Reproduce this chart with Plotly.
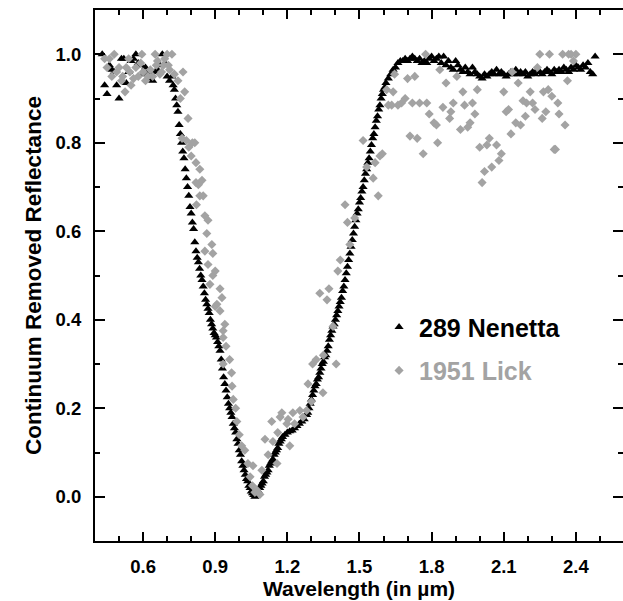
import plotly.graph_objects as go

# ---- 289 Nenetta (black triangles) ----
nenetta_wl = [
    0.43, 0.44, 0.45, 0.46, 0.47, 0.48, 0.49, 0.50, 0.51, 0.52, 0.53, 0.54, 0.55, 0.56, 0.57, 0.58,
    0.59, 0.60, 0.61, 0.62, 0.63, 0.64, 0.65, 0.66, 0.67, 0.68, 0.69, 0.70, 0.71, 0.72, 0.725, 0.73,
    0.735, 0.74, 0.745, 0.75, 0.755, 0.76, 0.765, 0.77, 0.775, 0.78, 0.785, 0.79, 0.795, 0.80, 0.805,
    0.81, 0.815, 0.82, 0.825, 0.83, 0.835, 0.84, 0.845, 0.85, 0.855, 0.86, 0.865, 0.87, 0.875, 0.88,
    0.885, 0.89, 0.895, 0.90, 0.905, 0.91, 0.915, 0.92, 0.925, 0.93, 0.935, 0.94, 0.945, 0.95, 0.955,
    0.96, 0.965, 0.97, 0.975, 0.98, 0.985, 0.99, 0.995, 1.00, 1.005, 1.01, 1.015, 1.02, 1.025, 1.03,
    1.035, 1.04, 1.045, 1.05, 1.055, 1.06, 1.065, 1.07, 1.075, 1.08, 1.085, 1.09, 1.095, 1.10, 1.105,
    1.11, 1.115, 1.12, 1.125, 1.13, 1.135, 1.14, 1.145, 1.15, 1.155, 1.16, 1.165, 1.17, 1.175, 1.18,
    1.19, 1.20, 1.21, 1.22, 1.23, 1.24, 1.25, 1.26, 1.27, 1.28, 1.285, 1.29, 1.295, 1.30, 1.305, 1.31,
    1.315, 1.32, 1.325, 1.33, 1.335, 1.34, 1.345, 1.35, 1.355, 1.36, 1.365, 1.37, 1.375, 1.38, 1.385,
    1.39, 1.395, 1.40, 1.405, 1.41, 1.415, 1.42, 1.425, 1.43, 1.435, 1.44, 1.445, 1.45, 1.455, 1.46,
    1.465, 1.47, 1.475, 1.48, 1.485, 1.49, 1.495, 1.50, 1.505, 1.51, 1.515, 1.52, 1.525, 1.53, 1.535,
    1.54, 1.545, 1.55, 1.555, 1.56, 1.565, 1.57, 1.575, 1.58, 1.585, 1.59, 1.595, 1.60, 1.605, 1.61,
    1.62, 1.63, 1.64, 1.65, 1.66, 1.67, 1.68, 1.69, 1.70, 1.71, 1.72, 1.73, 1.74, 1.75, 1.76, 1.77,
    1.78, 1.79, 1.80, 1.81, 1.82, 1.83, 1.84, 1.85, 1.86, 1.87, 1.88, 1.89, 1.90, 1.91, 1.92, 1.93,
    1.94, 1.95, 1.96, 1.97, 1.98, 1.99, 2.00, 2.01, 2.02, 2.03, 2.04, 2.05, 2.06, 2.07, 2.08, 2.09,
    2.10, 2.11, 2.12, 2.13, 2.14, 2.15, 2.16, 2.17, 2.18, 2.19, 2.20, 2.21, 2.22, 2.23, 2.24, 2.25,
    2.26, 2.27, 2.28, 2.29, 2.30, 2.31, 2.32, 2.33, 2.34, 2.35, 2.36, 2.37, 2.38, 2.39, 2.40, 2.41,
    2.42, 2.43, 2.44, 2.45, 2.46, 2.47, 2.48,
]
nenetta_refl = [
    1.00, 0.93, 0.91, 0.975, 0.965, 0.96, 0.93, 0.90, 0.99, 0.99, 0.935, 0.96, 0.985, 0.99, 1.00, 0.98,
    0.975, 0.955, 0.97, 0.96, 0.945, 0.94, 0.96, 0.965, 0.975, 1.00, 0.98, 0.95, 0.94, 0.95, 0.93, 0.92,
    0.90, 0.885, 0.87, 0.84, 0.82, 0.80, 0.78, 0.765, 0.74, 0.72, 0.70, 0.68, 0.655, 0.64, 0.62,
    0.605, 0.575, 0.555, 0.54, 0.53, 0.515, 0.50, 0.49, 0.475, 0.46, 0.445, 0.435, 0.425, 0.415, 0.40,
    0.39, 0.38, 0.37, 0.365, 0.36, 0.35, 0.34, 0.33, 0.31, 0.29, 0.27, 0.255, 0.24, 0.225, 0.21,
    0.20, 0.19, 0.18, 0.165, 0.155, 0.145, 0.13, 0.12, 0.105, 0.095, 0.08, 0.07, 0.06, 0.05, 0.04,
    0.035, 0.025, 0.02, 0.012, 0.008, 0.004, 0.0, 0.004, 0.008, 0.012, 0.02, 0.025, 0.03, 0.035, 0.045,
    0.05, 0.055, 0.06, 0.07, 0.075, 0.08, 0.085, 0.095, 0.10, 0.105, 0.11, 0.12, 0.125, 0.13, 0.135,
    0.14, 0.145, 0.148, 0.15, 0.155, 0.16, 0.165, 0.17, 0.175, 0.185, 0.19, 0.20, 0.21, 0.22, 0.23, 0.24,
    0.25, 0.255, 0.265, 0.27, 0.28, 0.29, 0.30, 0.305, 0.315, 0.32, 0.33, 0.34, 0.355, 0.365, 0.375,
    0.385, 0.39, 0.40, 0.41, 0.42, 0.43, 0.44, 0.45, 0.465, 0.475, 0.49, 0.505, 0.52, 0.535, 0.55,
    0.565, 0.58, 0.595, 0.61, 0.625, 0.64, 0.65, 0.665, 0.675, 0.69, 0.70, 0.715, 0.73, 0.74, 0.755,
    0.765, 0.78, 0.795, 0.81, 0.82, 0.835, 0.85, 0.86, 0.875, 0.885, 0.90, 0.91, 0.92, 0.925, 0.935,
    0.945, 0.955, 0.965, 0.97, 0.98, 0.985, 0.985, 0.99, 0.985, 0.99, 0.995, 0.99, 0.985, 0.99, 0.98, 0.985,
    0.98, 0.99, 0.995, 0.985, 0.99, 0.995, 0.98, 0.995, 0.975, 0.985, 0.97, 0.965, 0.985, 0.975, 0.965, 0.96,
    0.97, 0.96, 0.955, 0.97, 0.96, 0.955, 0.95, 0.945, 0.955, 0.95, 0.955, 0.96, 0.955, 0.965, 0.955, 0.96,
    0.955, 0.95, 0.955, 0.96, 0.955, 0.965, 0.955, 0.96, 0.955, 0.96, 0.95, 0.955, 0.96, 0.955, 0.965, 0.96,
    0.955, 0.96, 0.965, 0.96, 0.955, 0.965, 0.96, 0.965, 0.96, 0.97, 0.965, 0.96, 0.97, 0.965, 0.975, 0.97,
    0.965, 0.975, 0.97, 0.98, 0.96, 0.955, 0.995,
]

# ---- 1951 Lick (gray diamonds) ----
lick_wl = [
    0.44, 0.45, 0.46, 0.47, 0.48, 0.49, 0.50, 0.51, 0.515, 0.525, 0.53, 0.54, 0.545, 0.55, 0.56, 0.57,
    0.58, 0.59, 0.595, 0.60, 0.61, 0.62, 0.63, 0.64, 0.65, 0.655, 0.66, 0.67, 0.677, 0.685, 0.69, 0.70,
    0.705, 0.71, 0.72, 0.73, 0.745, 0.755, 0.762, 0.766, 0.773, 0.78, 0.787, 0.79, 0.80, 0.805, 0.815,
    0.82, 0.82, 0.822, 0.83, 0.836, 0.836, 0.845, 0.85, 0.857, 0.857, 0.865, 0.87, 0.87, 0.878, 0.886,
    0.89, 0.89, 0.90, 0.90, 0.907, 0.92, 0.92, 0.928, 0.933, 0.933, 0.933, 0.94, 0.945, 0.96, 0.968,
    0.97, 0.975, 0.985, 0.99, 1.00, 1.01, 1.023, 1.036, 1.045, 1.055, 1.057, 1.065, 1.073, 1.086, 1.094,
    1.107, 1.12, 1.135, 1.14, 1.157, 1.16, 1.17, 1.177, 1.198, 1.203, 1.21, 1.223, 1.23, 1.252, 1.265,
    1.28, 1.286, 1.30, 1.305, 1.32, 1.335, 1.348, 1.35, 1.365, 1.373, 1.39, 1.403, 1.41, 1.42, 1.44,
    1.45, 1.46, 1.48, 1.515, 1.53, 1.557, 1.565, 1.578, 1.585, 1.595, 1.613, 1.62, 1.634, 1.64, 1.646,
    1.66, 1.675, 1.69, 1.70, 1.71, 1.72, 1.73, 1.74, 1.75, 1.765, 1.775, 1.78, 1.79, 1.81, 1.82,
    1.825, 1.834, 1.847, 1.86, 1.875, 1.88, 1.89, 1.905, 1.92, 1.93, 1.937, 1.95, 1.96, 1.97, 1.98,
    1.99, 2.00, 2.01, 2.02, 2.03, 2.04, 2.05, 2.07, 2.08, 2.09, 2.10, 2.11, 2.12, 2.13, 2.135, 2.15,
    2.16, 2.17, 2.18, 2.19, 2.195, 2.21, 2.22, 2.23, 2.24, 2.25, 2.26, 2.265, 2.275, 2.285, 2.29,
    2.30, 2.31, 2.315, 2.325, 2.33, 2.345, 2.355, 2.365, 2.37, 2.38, 2.39, 2.40,
]
lick_refl = [
    0.99, 0.97, 0.99, 0.95, 1.00, 0.96, 0.97, 0.94, 0.95, 0.915, 0.97, 0.99, 0.96, 0.93, 0.945, 0.97,
    0.95, 0.98, 1.00, 0.96, 0.94, 0.95, 0.965, 0.95, 1.00, 0.975, 0.985, 0.955, 0.96, 0.975, 0.99, 1.00,
    0.975, 0.965, 1.00, 0.955, 0.94, 0.90, 0.81, 0.96, 0.915, 0.805, 0.855, 0.79, 0.77, 0.80, 0.80,
    0.755, 0.71, 0.66, 0.705, 0.74, 0.68, 0.715, 0.68, 0.635, 0.555, 0.595, 0.625, 0.525, 0.48, 0.57,
    0.55, 0.50, 0.51, 0.43, 0.435, 0.47, 0.42, 0.45, 0.375, 0.36, 0.30, 0.39, 0.34, 0.31, 0.28,
    0.25, 0.22, 0.20, 0.17, 0.14, 0.115, 0.105, 0.075, 0.045, 0.025, 0.07, 0.01, 0.015, 0.005, 0.06,
    0.13, 0.095, 0.17, 0.125, 0.075, 0.145, 0.18, 0.19, 0.165, 0.175, 0.115, 0.19, 0.165, 0.195, 0.18,
    0.195, 0.255, 0.215, 0.30, 0.31, 0.46, 0.235, 0.32, 0.445, 0.47, 0.385, 0.30, 0.51, 0.535, 0.66,
    0.62, 0.57, 0.63, 0.805, 0.745, 0.72, 0.755, 0.68, 0.77, 0.775, 0.92, 0.885, 0.885, 0.915, 0.955,
    0.885, 0.89, 0.90, 0.945, 0.815, 0.89, 0.95, 0.81, 0.89, 0.775, 1.00, 0.89, 0.865, 0.845, 0.84,
    0.80, 0.965, 0.88, 0.935, 0.855, 0.87, 0.89, 0.95, 0.83, 0.915, 0.885, 0.835, 0.845, 0.89, 0.865,
    0.92, 0.79, 0.71, 0.735, 0.795, 0.81, 0.745, 0.795, 0.76, 0.775, 0.915, 0.87, 0.875, 0.82, 0.96, 0.845,
    0.935, 0.84, 0.895, 0.86, 0.89, 0.915, 0.89, 0.875, 0.97, 1.00, 0.855, 0.915, 0.87, 0.92, 1.00,
    0.905, 0.785, 0.785, 0.89, 0.865, 1.00, 0.84, 0.94, 1.00, 1.00, 0.985, 1.00,
]

# ---- axis ticks ----
x_tick_vals = [0.6, 0.9, 1.2, 1.5, 1.8, 2.1, 2.4]
y_tick_vals = [0.0, 0.2, 0.4, 0.6, 0.8, 1.0]

GRAY = "#a3a3a3"
FONT = "Liberation Sans, Arial, sans-serif"

fig = go.Figure()
fig.add_trace(go.Scatter(
    x=nenetta_wl, y=nenetta_refl, mode="markers",
    name="<b>289 Nenetta</b>", legendgroup="a",
    marker=dict(symbol="triangle-up", size=8, color="black", line=dict(width=0)),
))
fig.add_trace(go.Scatter(
    x=lick_wl, y=lick_refl, mode="markers",
    name="<b><span style='color:%s'>1951 Lick</span></b>" % GRAY, legendgroup="b",
    marker=dict(symbol="diamond", size=7, color=GRAY, line=dict(width=0)),
))

axis_common = dict(
    showline=True, linecolor="black", linewidth=2, mirror="ticks",
    ticks="inside", tickwidth=2, tickcolor="black", showgrid=False, zeroline=False,
    automargin=False, ticklabelstandoff=8,
    tickfont=dict(family=FONT, size=18.5, color="black", weight="bold"),
)
fig.update_xaxes(
    **axis_common, range=[0.4, 2.596], tickvals=x_tick_vals, ticklen=9,
    ticktext=["%.1f" % v for v in x_tick_vals],
    minor=dict(dtick=0.1, tick0=0.4, ticks="inside", ticklen=5, tickwidth=2, tickcolor="black"),
    title=dict(text="Wavelength (in µm)", standoff=4,
               font=dict(family=FONT, size=21, color="black", weight="bold")),
)
fig.update_yaxes(
    **axis_common, range=[-0.1, 1.1], tickvals=y_tick_vals, ticklen=10,
    ticktext=["%.1f" % v for v in y_tick_vals],
    minor=dict(dtick=0.1, tick0=0.0, ticks="inside", ticklen=5, tickwidth=2, tickcolor="black"),
    title=dict(text="Continuum Removed Reflectance", standoff=8,
               font=dict(family=FONT, size=22.5, color="black", weight="bold")),
)
fig.update_layout(
    width=623, height=601, autosize=False,
    margin=dict(l=95, r=0, t=10, b=60, autoexpand=False),
    paper_bgcolor="white", plot_bgcolor="white",
    showlegend=True,
    legend=dict(
        x=0.538, y=0.446, xanchor="left", yanchor="top",
        bgcolor="rgba(0,0,0,0)", borderwidth=0,
        font=dict(family=FONT, size=25, color="black"),
        tracegroupgap=8, traceorder="grouped",
    ),
)
fig.write_html(
    "out.html",
    config={"displayModeBar": False, "responsive": False},
    post_script="document.body.style.margin='0';document.body.style.overflow='hidden';",
)
